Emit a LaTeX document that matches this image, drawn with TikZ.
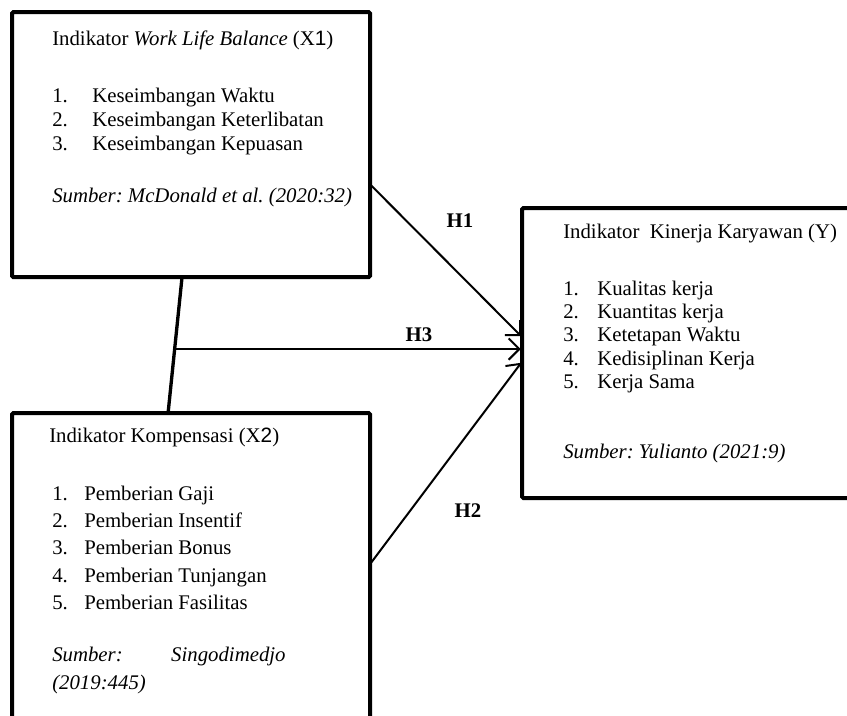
\documentclass[tikz,border=0pt]{standalone}
\usepackage{fontspec}
\setmainfont{Liberation Serif}
\setsansfont{Liberation Sans}
\usepackage{tikz}
\usetikzlibrary{calc}
\usetikzlibrary{positioning,arrows.meta}
\newcommand{\nomor}[2]{\makebox[#1][l]{#2.}}
\frenchspacing

\begin{document}
\begin{tikzpicture}[
        x=0.75pt,y=-0.75pt,
        KotakCfg/.style={
            draw,
            line width=3pt,
            rounded corners=1pt,
            inner sep=0pt,
            outer sep=0pt,
            anchor=north west
        },
        IsiCfg/.style={
            anchor=base west,
            inner sep=0pt,
            font=\fontsize{15.6}{18}\selectfont
        },
        PanahCfg/.style={
            line width=1.5pt,
            shorten >=1pt,
            -{Straight Barb[length=8pt,width=16pt,line width=1.5pt]}
        },
        LabelCfg/.style={font=\fontsize{15.6}{18}\selectfont\bfseries}
    ]

    \useasboundingbox (0,0) rectangle (847,715);
    \clip (0,0) rectangle (847,715);

    %boxes
    \node[KotakCfg,minimum width=268.5pt,minimum height=198.75pt] (X1) at (12,12) {};
    \node[KotakCfg,minimum width=268.5pt,minimum height=270pt] (X2) at (12,413) {};
    \node[KotakCfg,minimum width=270pt,minimum height=217.5pt] (Y) at (522,208) {};

    %box texts
    \node[IsiCfg] (teksX1) at ($(X1.north west)+(40,33)$) {\begin{tabular}[t]{@{}l@{}}
        Indikator \textit{Work Life Balance} (X\textsf{1})\\[24.75pt]
        \nomor{30pt}{1}Keseimbangan Waktu\\
        \nomor{30pt}{2}Keseimbangan Keterlibatan\\
        \nomor{30pt}{3}Keseimbangan Kepuasan\\[21pt]
        \textit{Sumber: McDonald et al. (2020:32)}
    \end{tabular}};
    \node[IsiCfg,font=\fontsize{15.6}{20.6}\selectfont] (teksX2) at ($(X2.north west)+(37,29)$) {\begin{tabular}[t]{@{}l@{}}
        Indikator Kompensasi (X\textsf{2})\\[22.9pt]
        \hspace*{2.25pt}\nomor{24pt}{1}Pemberian Gaji\\
        \hspace*{2.25pt}\nomor{24pt}{2}Pemberian Insentif\\
        \hspace*{2.25pt}\nomor{24pt}{3}Pemberian Bonus\\
        \hspace*{2.25pt}\nomor{24pt}{4}Pemberian Tunjangan\\
        \hspace*{2.25pt}\nomor{24pt}{5}Pemberian Fasilitas\\[18.4pt]
        \hspace*{2.25pt}\makebox[175pt][l]{\textit{Sumber:}\hfill\textit{Singodimedjo}}\\
        \hspace*{2.25pt}\textit{(2019:445)}
    \end{tabular}};
    \node[IsiCfg,font=\fontsize{15.6}{17.5}\selectfont] (teksY) at ($(Y.north west)+(41,30)$) {\begin{tabular}[t]{@{}l@{}}
        Indikator\ \ Kinerja Karyawan (Y)\\[25.25pt]
        \nomor{25.5pt}{1}Kualitas kerja\\
        \nomor{25.5pt}{2}Kuantitas kerja\\
        \nomor{25.5pt}{3}Ketetapan Waktu\\
        \nomor{25.5pt}{4}Kedisiplinan Kerja\\
        \nomor{25.5pt}{5}Kerja Sama\\[35pt]
        \textit{Sumber: Yulianto (2021:9)}
    \end{tabular}};

    %connections
    \coordinate (atas) at ($(X1.south west)!0.475!(X1.south east)$);
    \coordinate (bawah) at ($(X2.north west)!0.436!(X2.north east)$);
    \coordinate (tengah) at ($(atas)!0.53!(bawah)$);
    \draw[line width=2.5pt] (atas)--(bawah);
    \draw[PanahCfg] ($(X1.north east)!0.65!(X1.south east)$)--($(Y.north west)!0.445!(Y.south west)$);
    \draw[PanahCfg] (tengah)--(tengah -| Y.west);
    \draw[PanahCfg] ($(X2.north east)!0.42!(X2.south east)$)--($(Y.north west)!0.53!(Y.south west)$);

    %labels
    \node[LabelCfg] (h1) at (460,221) {H1};
    \node[LabelCfg] (h3) at (419,335) {H3};
    \node[LabelCfg] (h2) at (468,511) {H2};

\end{tikzpicture}
\end{document}
